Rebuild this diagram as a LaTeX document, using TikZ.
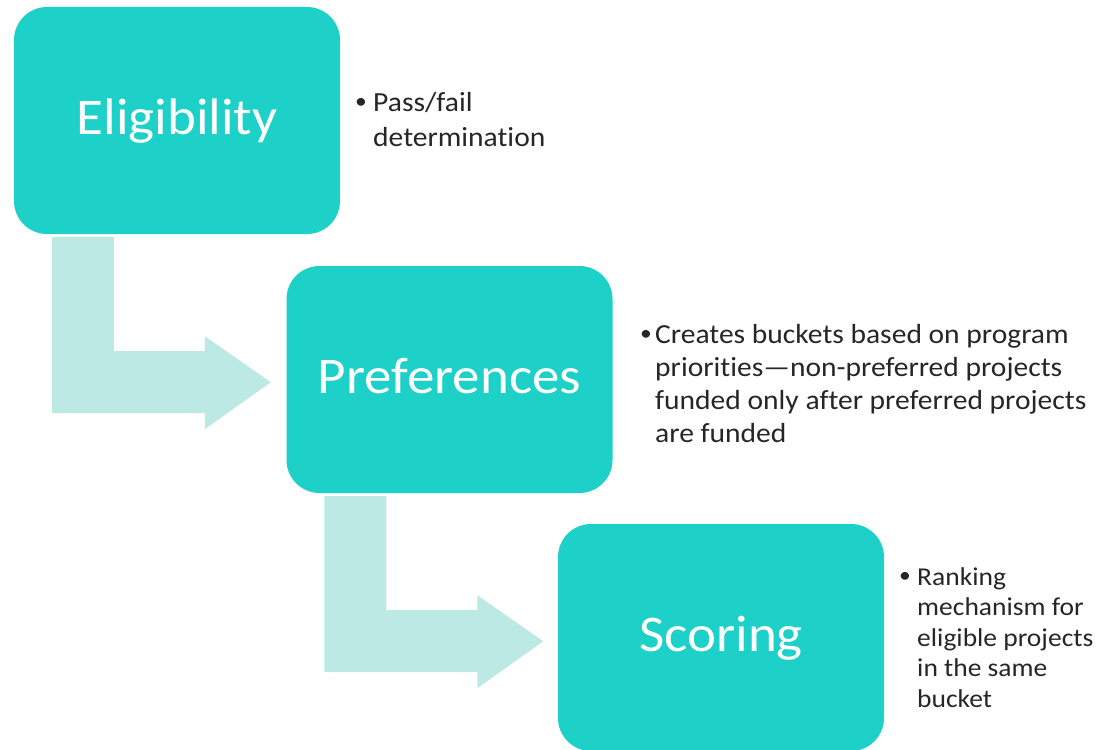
\documentclass[tikz,border=0pt]{standalone}
\usepackage{fontspec}
\setmainfont{Carlito}[FakeStretch=1.07,Ligatures=NoCommon]
\usetikzlibrary{calc}
\definecolor{boxteal}{RGB}{29,208,200}
\definecolor{arrowteal}{RGB}{189,233,229}
\definecolor{bodytext}{RGB}{38,38,38}
\newcommand\lflow[1]{\fill[flow] (#1) -- ++(62,0) -- ++(0,114) -- ++(91,0) -- ++(0,-15) -- ++(66,46) -- ++(-66,47) -- ++(0,-16) -- ++(-153,0) -- cycle;}
\begin{document}
\begin{tikzpicture}[x=1pt,y=-1pt,
  stage/.style={rectangle, rounded corners=33pt, fill=boxteal, minimum width=326pt, minimum height=227pt, inner sep=0pt, text=white, font=\fontsize{51.4}{60}\selectfont, text height=38pt, text depth=10pt},
  flow/.style={fill=arrowteal},
  bulletmark/.style={text=bodytext, inner sep=0pt, anchor=center, font=\fontsize{22}{26}\selectfont},
  bullettext/.style={text=bodytext, inner sep=0pt, anchor=base west},
  bigbody/.style={font=\fontsize{27.6}{34}\selectfont},
  smallbody/.style={font=\fontsize{25.7}{30.5}\selectfont}
]
\useasboundingbox (0,0) rectangle (1115,749);
\node[stage] (elig) at (177,120.5) {Eligibility};
\node[stage] (pref) at (449.5,379.5) {Preferences};
\node[stage] (scor) at (721,637.5) {Scoring};
\coordinate (f1) at ($(elig.south west)+(38,3)$);
\coordinate (f2) at ($(pref.south west)+(38,3)$);
\lflow{f1}
\lflow{f2}
\node[bulletmark] (b1) at (361,103) {\raisebox{-0.5ex}{•}};
\node[bullettext,bigbody] (t1) at (373,112) {\vtop{\hbox{Pass/fail}\hbox{determination}}};
\node[bulletmark] (b2) at (646,335) {\raisebox{-0.5ex}{•}};
\node[bullettext,font=\fontsize{27.6}{33.3}\selectfont] (t2) at (655,343) {\vtop{\hbox{Creates buckets based on program}\hbox{priorities—non-preferred projects}\hbox{funded only after preferred projects}\hbox{are funded}}};
\node[bulletmark] (b3) at (905,577) {\raisebox{-0.5ex}{•}};
\node[bullettext,smallbody] (t3) at (917,585) {\vtop{\hbox{Ranking}\hbox{mechanism for}\hbox{eligible projects}\hbox{in the same}\hbox{bucket}}};
\end{tikzpicture}
\end{document}
